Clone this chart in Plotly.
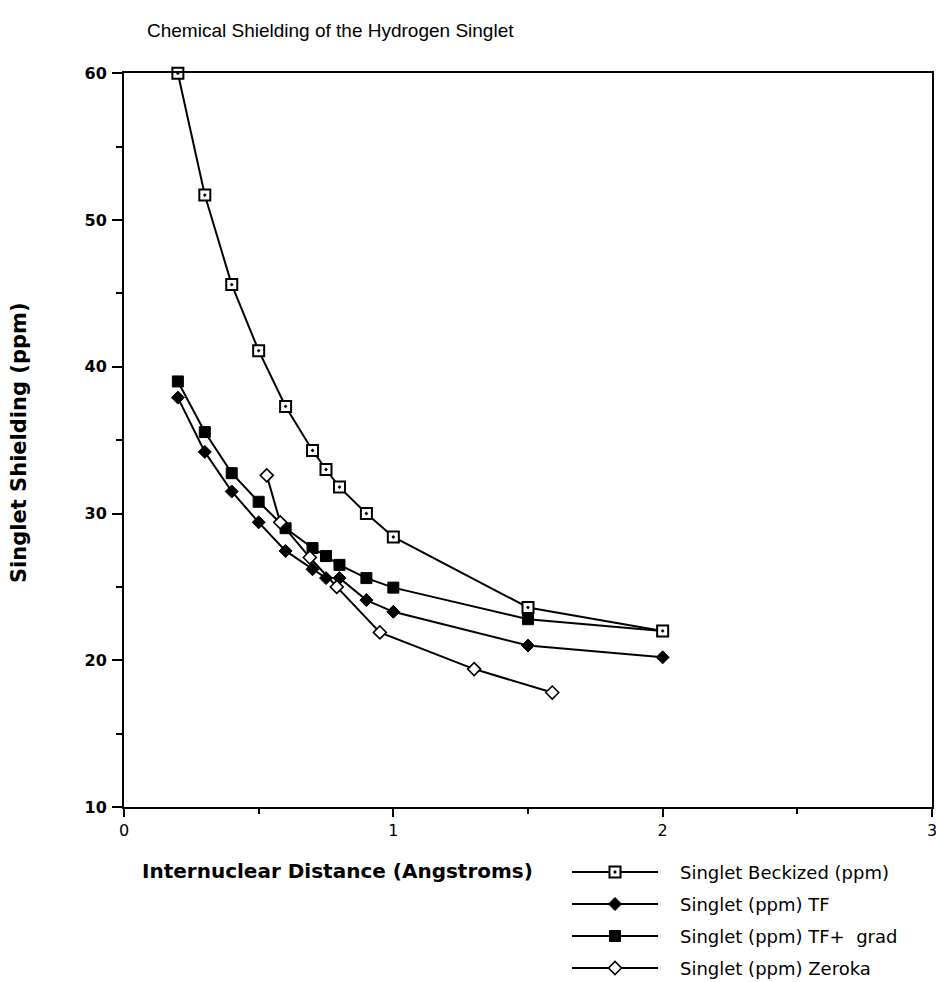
import plotly.graph_objects as go

# Internuclear distances (Angstroms)
dist = [0.2, 0.3, 0.4, 0.5, 0.6, 0.7, 0.75, 0.8, 0.9, 1.0, 1.5, 2.0]
dist_zeroka = [0.53, 0.58, 0.69, 0.79, 0.95, 1.30, 1.59]

# Singlet shielding values (ppm)
beckized = [60.0, 51.7, 45.6, 41.1, 37.3, 34.3, 33.0, 31.8, 30.0, 28.4, 23.6, 22.0]
tf = [37.9, 34.2, 31.5, 29.4, 27.45, 26.2, 25.6, 25.6, 24.1, 23.3, 21.0, 20.2]
tf_grad = [39.0, 35.55, 32.75, 30.8, 29.0, 27.65, 27.1, 26.5, 25.6, 24.95, 22.8, 22.0]
zeroka = [32.6, 29.4, 27.0, 25.0, 21.9, 19.4, 17.8]

series_names = [
    "Singlet Beckized (ppm)",
    "Singlet (ppm) TF",
    "Singlet (ppm) TF+  grad",
    "Singlet (ppm) Zeroka",
]

x_ticks = [0, 1, 2, 3]
y_ticks = [10, 20, 30, 40, 50, 60]

W, H = 936, 982
BLACK = "#000000"

styles = [
    dict(symbol="square-dot", size=11, color="white", line=dict(color=BLACK, width=2)),
    dict(symbol="diamond", size=10, color=BLACK, line=dict(color=BLACK, width=1)),
    dict(symbol="square", size=11, color=BLACK, line=dict(color=BLACK, width=1)),
    dict(symbol="diamond", size=10, color="white", line=dict(color=BLACK, width=1.6)),
]
xs = [dist, dist, dist, dist_zeroka]
ys = [beckized, tf, tf_grad, zeroka]

fig = go.Figure()

# Draw series in an order that keeps the open markers on top
for i in [1, 2, 0, 3]:
    fig.add_trace(go.Scatter(
        x=xs[i], y=ys[i], mode="lines+markers", name=series_names[i],
        line=dict(color=BLACK, width=2), marker=styles[i],
        showlegend=False, cliponaxis=False,
    ))

# Legend samples on their own small axes below the plot
for i in range(4):
    fig.add_trace(go.Scatter(
        x=[0, 1], y=[i + 1, i + 1], mode="lines", xaxis="x2", yaxis="y2",
        line=dict(color=BLACK, width=2), showlegend=False, hoverinfo="skip",
    ))
    fig.add_trace(go.Scatter(
        x=[0.5], y=[i + 1], mode="markers", xaxis="x2", yaxis="y2",
        marker=styles[i], showlegend=False, hoverinfo="skip",
    ))

px_x = lambda p: p / W
px_y = lambda p: (H - p) / H

annotations = [
    dict(text="Chemical Shielding of the Hydrogen Singlet", x=px_x(145), y=px_y(30),
         xref="paper", yref="paper", xanchor="left", yanchor="middle", showarrow=False,
         font=dict(family="Liberation Sans", size=19, color=BLACK)),
    dict(text="<b>Singlet Shielding (ppm)</b>", x=px_x(19), y=px_y(443), textangle=-90,
         xref="paper", yref="paper", xanchor="center", yanchor="middle", showarrow=False,
         font=dict(family="DejaVu Sans", size=21, color=BLACK)),
    dict(text="<b>Internuclear Distance (Angstroms)</b>", x=px_x(140), y=px_y(871),
         xref="paper", yref="paper", xanchor="left", yanchor="middle", showarrow=False,
         font=dict(family="DejaVu Sans", size=20, color=BLACK)),
]
for i, name in enumerate(series_names):
    annotations.append(dict(
        text=name, x=px_x(678), y=i + 1, xref="paper", yref="y2",
        xanchor="left", yanchor="middle", showarrow=False,
        font=dict(family="DejaVu Sans", size=18, color=BLACK)))

# Legend rows at 32 px spacing starting at y=872
leg_top, row_h = 856, 32
leg_bottom_val = 0.5 + (H - leg_top) / row_h

fig.update_layout(
    width=W, height=H,
    margin=dict(l=0, r=0, t=0, b=0),
    paper_bgcolor="white", plot_bgcolor="white",
    showlegend=False,
    annotations=annotations,
    xaxis=dict(
        domain=[px_x(124), px_x(932)], range=[0, 3], tickvals=x_ticks,
        showgrid=False, zeroline=False, showline=True, linecolor=BLACK, linewidth=2,
        mirror=True, ticks="outside", ticklen=8, tickwidth=2, tickcolor=BLACK,
        minor=dict(dtick=0.5, ticks="outside", ticklen=5, tickwidth=1.5, tickcolor=BLACK),
        tickfont=dict(family="DejaVu Sans", size=16, color=BLACK), ticklabelstandoff=0,
        ticklabeloverflow="allow", automargin=False, fixedrange=True,
    ),
    yaxis=dict(
        domain=[px_y(807), px_y(73.3)], range=[10, 60], tickvals=y_ticks,
        showgrid=False, zeroline=False, showline=True, linecolor=BLACK, linewidth=2,
        mirror=True, ticks="outside", ticklen=10, tickwidth=2, tickcolor=BLACK,
        minor=dict(dtick=5, ticks="outside", ticklen=6, tickwidth=1.5, tickcolor=BLACK),
        tickfont=dict(family="DejaVu Sans", size=16, color=BLACK, weight="bold"),
        ticklabelstandoff=2, automargin=False, fixedrange=True,
    ),
    xaxis2=dict(
        domain=[px_x(572), px_x(658)], range=[0, 1], anchor="y2",
        visible=False, fixedrange=True,
    ),
    yaxis2=dict(
        domain=[0, px_y(leg_top)], range=[leg_bottom_val, 0.5], anchor="x2",
        visible=False, fixedrange=True,
    ),
)

fig.write_html("out.html")
